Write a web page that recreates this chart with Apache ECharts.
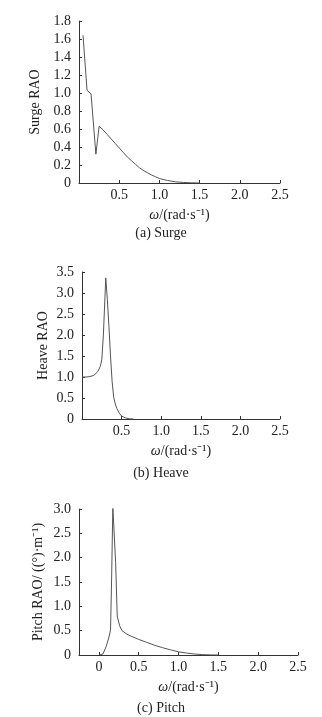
<!DOCTYPE html>
<html>
<head>
<meta charset="utf-8">
<script src="https://cdn.jsdelivr.net/npm/echarts@6/dist/echarts.min.js"></script>
<style>
  html, body { margin: 0; padding: 0; background: #fff; }
  #main { width: 322px; height: 717px; }
</style>
</head>
<body>
<div id="main"></div>
<script>
const surgeW = [0.05, 0.10, 0.15, 0.21, 0.25, 0.30, 0.35, 0.40, 0.45, 0.50, 0.55, 0.60, 0.65, 0.70, 0.75, 0.80, 0.85, 0.90, 0.95, 1.00, 1.10, 1.20, 1.30, 1.40, 1.50];
const surgeRAO = [1.64, 1.03, 0.99, 0.32, 0.63, 0.59, 0.54, 0.49, 0.44, 0.39, 0.34, 0.29, 0.25, 0.21, 0.17, 0.14, 0.115, 0.09, 0.07, 0.05, 0.028, 0.013, 0.006, 0.002, 0.0];

const heaveW = [0.0, 0.05, 0.10, 0.15, 0.20, 0.23, 0.25, 0.27, 0.29, 0.30, 0.32, 0.34, 0.36, 0.38, 0.40, 0.42, 0.44, 0.47, 0.50, 0.55, 0.60, 0.65];
const heaveRAO = [1.0, 1.0, 1.01, 1.04, 1.13, 1.25, 1.41, 2.0, 2.9, 3.36, 2.85, 2.2, 1.5, 0.9, 0.52, 0.36, 0.25, 0.14, 0.07, 0.025, 0.005, 0.0];

const pitchW = [0.0, 0.05, 0.09, 0.12, 0.146, 0.16, 0.175, 0.195, 0.21, 0.23, 0.26, 0.29, 0.35, 0.40, 0.50, 0.60, 0.70, 0.80, 0.90, 1.00, 1.10, 1.20, 1.30, 1.40, 1.50];
const pitchRAO = [0.0, 0.02, 0.17, 0.33, 0.51, 1.6, 3.05, 3.05, 1.9, 0.8, 0.6, 0.5, 0.43, 0.39, 0.32, 0.26, 0.2, 0.15, 0.105, 0.065, 0.04, 0.02, 0.008, 0.002, 0.0];

const xTicks = [0.5, 1.0, 1.5, 2.0, 2.5];
const xTicksPitch = [0, 0.5, 1.0, 1.5, 2.0, 2.5];
const captions = ['(a) Surge', '(b) Heave', '(c) Pitch'];
const yNames = ['Surge RAO', 'Heave RAO', 'Pitch RAO/ ((°)·m⁻¹)'];

const serif = '"Liberation Serif", "Times New Roman", serif';
const txt = '#222';
const axisCol = '#333';
const fs = 14;

const chart = echarts.init(document.getElementById('main'));

const zip = (xs, ys) => xs.map((x, i) => [x, ys[i]]);
const fmt = v => (v === 0 ? '0' : v.toFixed(1));

const xAxisBase = (gridIndex, min, ticks) => ({
  type: 'value',
  gridIndex: gridIndex,
  min: min,
  max: 2.5,
  name: '{i|ω}/(rad·s⁻¹)',
  nameLocation: 'middle',
  nameGap: 25,
  nameMoveOverlap: false,
  nameTextStyle: {
    fontFamily: serif, fontSize: fs, color: txt,
    rich: { i: { fontFamily: serif, fontStyle: 'italic', fontSize: fs, color: txt } }
  },
  axisLine: { show: true, onZero: false, lineStyle: { color: axisCol, width: 1 } },
  axisTick: { show: true, inside: true, length: 3, customValues: ticks, lineStyle: { color: axisCol } },
  axisLabel: { customValues: ticks, formatter: fmt, fontFamily: serif, fontSize: fs, color: txt, margin: 5 },
  splitLine: { show: false }
});

const yAxisBase = (gridIndex, max, interval, name, gap) => ({
  type: 'value',
  gridIndex: gridIndex,
  min: 0,
  max: max,
  interval: interval,
  name: name,
  nameLocation: 'middle',
  nameGap: gap,
  nameMoveOverlap: false,
  nameTextStyle: { fontFamily: serif, fontSize: fs, color: txt },
  axisLine: { show: true, onZero: false, lineStyle: { color: axisCol, width: 1 } },
  axisTick: { show: true, inside: true, length: 3, lineStyle: { color: axisCol } },
  axisLabel: { formatter: fmt, fontFamily: serif, fontSize: fs, color: txt, margin: 8 },
  splitLine: { show: false }
});

const lineSeries = (idx, data) => ({
  type: 'line',
  xAxisIndex: idx,
  yAxisIndex: idx,
  data: data,
  showSymbol: false,
  smooth: false,
  lineStyle: { color: '#555', width: 1 }
});

chart.setOption({
  animation: false,
  backgroundColor: '#fff',
  title: [
    { text: captions[0], left: 'center', top: 221 },
    { text: captions[1], left: 'center', top: 461 },
    { text: captions[2], left: 'center', top: 696 }
  ].map(t => Object.assign(t, {
    textStyle: { fontFamily: serif, fontSize: fs, fontWeight: 'normal', color: txt }
  })),
  grid: [
    { left: 79, top: 21, width: 201, height: 162 },
    { left: 82, top: 272, width: 198, height: 147 },
    { left: 79, top: 509, width: 219, height: 146 }
  ],
  xAxis: [
    xAxisBase(0, 0, xTicks),
    xAxisBase(1, 0, xTicks),
    xAxisBase(2, -0.25, xTicksPitch)
  ],
  yAxis: [
    yAxisBase(0, 1.8, 0.2, yNames[0], 37),
    yAxisBase(1, 3.5, 0.5, yNames[1], 32),
    yAxisBase(2, 3.0, 0.5, yNames[2], 34)
  ],
  series: [
    lineSeries(0, zip(surgeW, surgeRAO)),
    lineSeries(1, zip(heaveW, heaveRAO)),
    lineSeries(2, zip(pitchW, pitchRAO))
  ]
});
</script>
</body>
</html>
